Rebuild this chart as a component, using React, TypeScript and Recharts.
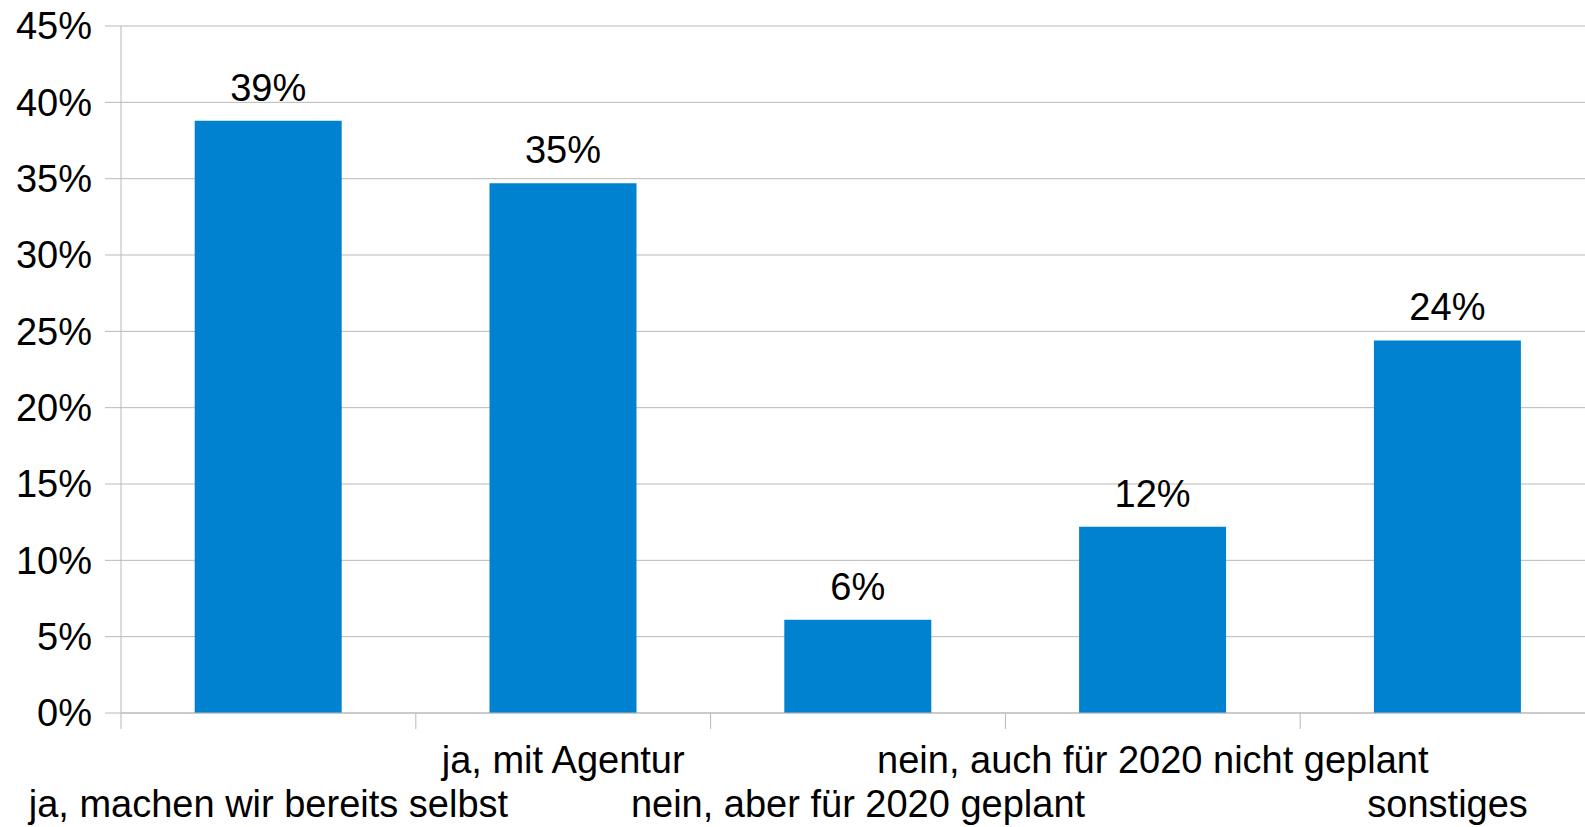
import { BarChart, Bar, XAxis, YAxis, CartesianGrid, LabelList } from 'recharts'

const categories = [
  'ja, machen wir bereits selbst',
  'ja, mit Agentur',
  'nein, aber für 2020 geplant',
  'nein, auch für 2020 nicht geplant',
  'sonstiges',
]
const shares = [38.8, 34.7, 6.1, 12.2, 24.4]
const yTicks = [0, 5, 10, 15, 20, 25, 30, 35, 40, 45]

const data = categories.map((name, i) => ({ name, value: shares[i] }))

const FONT = '"Liberation Sans", Arial, sans-serif'
const GRID = '#b9b9b9'

// staggered category labels, tick marks sit on the band boundaries
function CategoryTick(props: any) {
  const { x, y, payload, index } = props
  const half = payload.offset || 0
  const dy = index % 2 === 1 ? 44 : 88
  return (
    <g>
      <line x1={x - half} y1={y - 16} x2={x - half} y2={y} stroke={GRID} strokeWidth={1} />
      <text
        x={x}
        y={y + dy}
        textAnchor="middle"
        fill="#000"
        style={{ fontSize: 38, fontFamily: FONT }}
      >
        {payload.value}
      </text>
    </g>
  )
}

export default function App() {
  return (
    <div
      style={{
        position: 'absolute',
        left: 0,
        top: 0,
        width: 1585,
        height: 827,
        overflow: 'hidden',
        background: '#fff',
      }}
    >
      <BarChart
        width={1600}
        height={827}
        data={data}
        margin={{ top: 26, right: 5, bottom: 0, left: 0 }}
        barCategoryGap="25%"
      >
        <CartesianGrid vertical={false} stroke={GRID} />
        <XAxis
          dataKey="name"
          height={114}
          interval={0}
          tickSize={16}
          tickMargin={0}
          tickLine={false}
          axisLine={{ stroke: GRID }}
          tick={<CategoryTick />}
        />
        <YAxis
          width={121}
          domain={[0, 45]}
          ticks={yTicks}
          interval={0}
          tickSize={16}
          tickMargin={13}
          tickLine={{ stroke: GRID }}
          axisLine={{ stroke: GRID }}
          tickFormatter={(v: number) => `${v}%`}
          tick={{ fill: '#000', fontSize: 38, fontFamily: FONT }}
        />
        <Bar dataKey="value" fill="#0082d0" isAnimationActive={false}>
          <LabelList
            dataKey="value"
            position="top"
            offset={20}
            formatter={(v: any) => `${Math.round(Number(v))}%`}
            style={{ fill: '#000', fontSize: 38, fontFamily: FONT }}
          />
        </Bar>
      </BarChart>
    </div>
  )
}
